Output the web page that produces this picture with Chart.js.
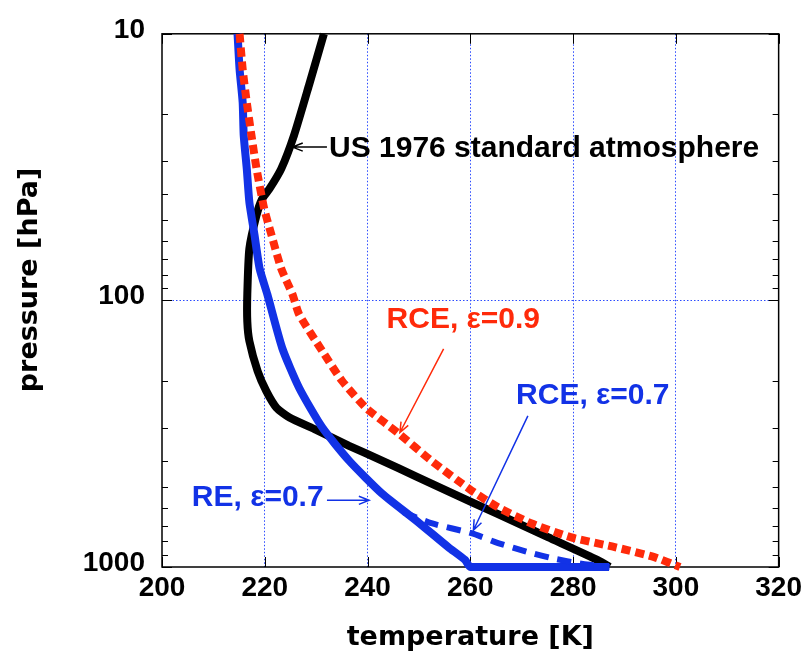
<!DOCTYPE html>
<html>
<head>
<meta charset="utf-8">
<script src="https://cdn.jsdelivr.net/npm/chart.js@4.4.1/dist/chart.umd.min.js"></script>
<style>
  html, body { margin: 0; padding: 0; background: #fff; }
  #wrap { width: 806px; height: 657px; }
</style>
</head>
<body>
<div id="wrap"><canvas id="myChart"></canvas></div>
<script>
// US 1976 standard atmosphere (temperature K, pressure hPa)
const usTemp = [231.5, 228.6, 225.7, 223.2, 220.9, 219.5, 218.4, 217.0, 216.6, 216.6, 217.0, 218.6, 220.3, 222.3, 224.8, 230.0, 236.4, 242.8, 249.4, 255.7, 265.4, 275.1, 284.8, 287.1];
const usPres = [10, 15.6, 24.0, 32.1, 38.2, 41.6, 47.8, 64.0, 95, 120, 142, 184, 219, 253, 275, 306, 351, 399, 457, 520, 634, 773, 942, 1000];

// RE, eps = 0.7
const reTemp = [214.7, 215.1, 215.7, 215.9, 216.5, 217.0, 218.0, 219.0, 220.5, 223.4, 226.7, 231.2, 236.4, 242.8, 249.4, 255.7, 259.0, 260.0, 287.0];
const rePres = [10, 13.6, 18.1, 24.0, 32.1, 42.8, 56.8, 76.0, 95, 151, 213, 300, 399, 530, 668, 842, 942, 1000, 1000];

// RCE, eps = 0.7
const rce7Temp = [247.0, 252.4, 260.2, 265.4, 271.2, 275.7, 281.9, 287.1];
const rce7Pres = [623, 685, 747, 813, 879, 925, 975, 1000];

// RCE, eps = 0.9
const rce9Temp = [215.1, 215.7, 216.5, 217.4, 218.4, 219.9, 221.3, 223.2, 225.4, 226.7, 231.2, 235.0, 239.7, 246.1, 252.4, 260.2, 265.4, 271.8, 279.5, 288.1, 295.8, 300.8];
const rce9Pres = [10, 13.6, 18.1, 24.0, 32.1, 45.4, 56.8, 76.0, 95, 113, 155, 200, 253, 316, 399, 516, 597, 685, 773, 842, 918, 1000];

// axes
const xTicks = [200, 220, 240, 260, 280, 300, 320];
const yLabels = [10, 100, 1000];
const yMinorTicks = [20, 30, 40, 50, 60, 70, 80, 90, 200, 300, 400, 500, 600, 700, 800, 900];

// annotations (text anchor and arrow ends in data units)
const noteTexts = ['US 1976 standard atmosphere', 'RCE, \u03b5=0.9', 'RCE, \u03b5=0.7', 'RE, \u03b5=0.7'];
const noteAt = [[232.5, 27.1], [243.7, 117.7], [268.9, 228], [205.8, 548]];
const noteColors = ['#000000', '#ff2a0a', '#1232e6', '#1232e6'];
const arrowFrom = [[232.1, 26.6], [254.8, 152], [271.2, 271], [232.1, 562]];
const arrowTo = [[225.4, 26.6], [246.3, 313], [260.6, 728], [240.3, 562]];

const FONT = "'Liberation Sans', Arial, Helvetica, sans-serif";
const GRID_BLUE = '#2b4bff';

function toPoints(temps, pres) {
  return temps.map((t, i) => ({ x: t, y: pres[i] }));
}

function drawArrow(ctx, x1, y1, x2, y2, color) {
  const ang = Math.atan2(y2 - y1, x2 - x1);
  const head = 11, spread = 0.38;
  ctx.strokeStyle = color;
  ctx.lineWidth = 1.5;
  ctx.beginPath();
  ctx.moveTo(x1, y1);
  ctx.lineTo(x2, y2);
  ctx.moveTo(x2 - head * Math.cos(ang - spread), y2 - head * Math.sin(ang - spread));
  ctx.lineTo(x2, y2);
  ctx.lineTo(x2 - head * Math.cos(ang + spread), y2 - head * Math.sin(ang + spread));
  ctx.stroke();
}

// frame, inner tick marks, y title
const framePlugin = {
  id: 'frame',
  beforeDatasetsDraw(chart) {
    const { ctx, chartArea: a, scales: { x, y } } = chart;
    ctx.save();
    ctx.strokeStyle = '#000';
    ctx.lineWidth = 1;
    ctx.beginPath();
    yMinorTicks.forEach(v => {
      const py = Math.round(y.getPixelForValue(v)) + 0.5;
      ctx.moveTo(a.left, py); ctx.lineTo(a.left + 6, py);
      ctx.moveTo(a.right, py); ctx.lineTo(a.right - 6, py);
    });
    yLabels.forEach(v => {
      const py = Math.round(y.getPixelForValue(v)) + 0.5;
      ctx.moveTo(a.left, py); ctx.lineTo(a.left + 10, py);
      ctx.moveTo(a.right, py); ctx.lineTo(a.right - 10, py);
    });
    xTicks.forEach(v => {
      const px = Math.round(x.getPixelForValue(v)) + 0.5;
      ctx.moveTo(px, a.bottom); ctx.lineTo(px, a.bottom - 10);
      ctx.moveTo(px, a.top); ctx.lineTo(px, a.top + 10);
    });
    ctx.stroke();
    ctx.lineWidth = 1.5;
    ctx.strokeRect(a.left, a.top, a.width, a.height);

    ctx.translate(30, 280);
    ctx.rotate(-Math.PI / 2);
    ctx.fillStyle = '#000';
    ctx.font = "bold 27px 'DejaVu Sans', sans-serif";
    ctx.textAlign = 'center';
    ctx.textBaseline = 'middle';
    ctx.fillText('pressure [hPa]', 0, 0);
    ctx.restore();
  },
  afterDatasetsDraw(chart) {
    const { ctx, scales: { x, y } } = chart;
    ctx.save();
    noteTexts.forEach((txt, i) => {
      const f = arrowFrom[i], t = arrowTo[i];
      drawArrow(ctx, x.getPixelForValue(f[0]), y.getPixelForValue(f[1]),
        x.getPixelForValue(t[0]), y.getPixelForValue(t[1]), noteColors[i]);
      ctx.fillStyle = noteColors[i];
      ctx.font = 'bold 30px ' + FONT;
      ctx.textAlign = 'left';
      ctx.textBaseline = 'middle';
      ctx.fillText(txt, x.getPixelForValue(noteAt[i][0]), y.getPixelForValue(noteAt[i][1]));
    });
    ctx.restore();
  }
};

const ctx = document.getElementById('myChart').getContext('2d');
const myChart = new Chart(ctx, {
  type: 'scatter',
  data: {
    datasets: [
      {
        label: 'RCE, eps=0.9',
        data: toPoints(rce9Temp, rce9Pres),
        borderColor: '#ff2a0a',
        borderWidth: 8,
        borderDash: [9, 5],
        borderCapStyle: 'butt'
      },
      {
        label: 'RCE, eps=0.7',
        data: toPoints(rce7Temp, rce7Pres),
        borderColor: '#1232e6',
        borderWidth: 6,
        borderDash: [14, 9],
        borderCapStyle: 'butt'
      },
      {
        label: 'RE, eps=0.7',
        data: toPoints(reTemp, rePres),
        borderColor: '#1232e6',
        borderWidth: 8
      },
      {
        label: 'US 1976',
        data: toPoints(usTemp, usPres),
        borderColor: '#000000',
        borderWidth: 8
      }
    ].map(d => Object.assign({
      showLine: true,
      pointRadius: 0,
      fill: false,
      tension: 0.2,
      borderJoinStyle: 'round',
      clip: false
    }, d))
  },
  options: {
    responsive: true,
    maintainAspectRatio: false,
    animation: false,
    layout: { padding: { top: 31, right: 24, left: 0, bottom: 0 } },
    plugins: {
      legend: { display: false },
      tooltip: { enabled: false }
    },
    scales: {
      x: {
        type: 'linear',
        min: 200,
        max: 320,
        afterFit: scale => { scale.height = 90; },
        afterBuildTicks: scale => { scale.ticks = xTicks.map(v => ({ value: v })); },
        ticks: {
          font: { family: FONT, size: 28, weight: 'bold' },
          color: '#000',
          padding: 4,
          maxRotation: 0
        },
        grid: {
          color: c => (c.tick && (c.tick.value === 200 || c.tick.value === 320)) ? 'rgba(0,0,0,0)' : GRID_BLUE,
          lineWidth: 1,
          drawTicks: false
        },
        border: { display: false, dash: [1.5, 2] },
        title: {
          display: true,
          text: 'temperature [K]',
          color: '#000',
          font: { family: "'DejaVu Sans', sans-serif", size: 27, weight: 'bold' },
          padding: { top: 0, bottom: 3 }
        }
      },
      y: {
        type: 'logarithmic',
        reverse: true,
        min: 10,
        max: 1000,
        afterFit: scale => { scale.width = 162; },
        afterBuildTicks: scale => { scale.ticks = yLabels.map(v => ({ value: v })); },
        ticks: {
          font: { family: FONT, size: 28, weight: 'bold' },
          color: '#000',
          padding: 17,
          labelOffset: -4,
          autoSkip: false,
          callback: v => String(v)
        },
        grid: {
          color: c => (c.tick && c.tick.value === 100) ? GRID_BLUE : 'rgba(0,0,0,0)',
          lineWidth: 1,
          drawTicks: false
        },
        border: { display: false, dash: [1.5, 2] }
      }
    }
  },
  plugins: [framePlugin]
});
</script>
</body>
</html>
